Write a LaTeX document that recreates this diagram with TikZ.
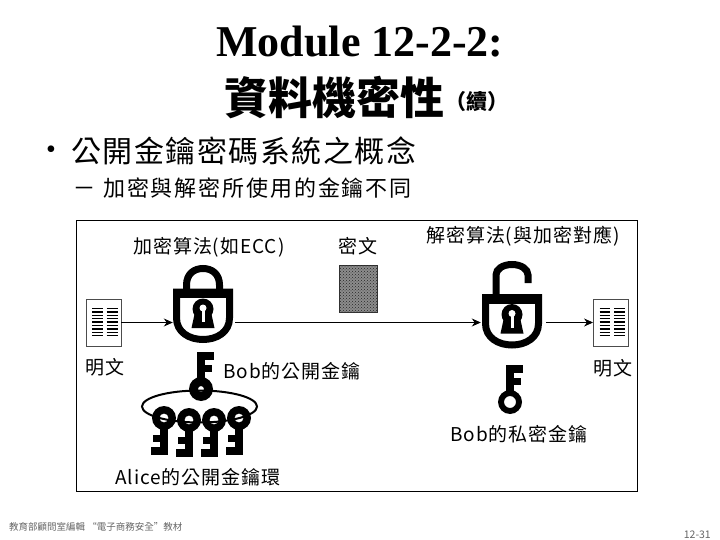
\documentclass[tikz,border=0pt]{standalone}
\usepackage{fontspec}
\setmainfont{Liberation Serif}
\newfontfamily\cjk{Noto Sans CJK TC}
\usetikzlibrary{arrows.meta,patterns}
\newcommand{\fsz}[2]{\fontsize{#1}{#1}\selectfont\addfontfeature{LetterSpace=#2}}
\tikzset{
  tag/.style={anchor=west,inner sep=0pt,font=\cjk\fsz{19}{5}},
  docbox/.style={draw=black!70,fill=white,line width=0.9pt,minimum width=35pt,minimum height=47pt,inner sep=0pt},
  lockbox/.style={minimum width=60pt,minimum height=54pt,inner sep=0pt},
  conn/.style={line width=1.1pt,-{Stealth[length=9pt,width=8pt]}},
  pics/doclines/.style={code={
    \foreach \i in {0,...,8} {
      \draw[line width=1.3pt] (-11.5,-14+3.4*\i) -- (-1,-14+3.4*\i);
      \draw[line width=1.3pt] (3,-14+3.4*\i) -- (14,-14+3.4*\i);
    }
  }},
  pics/keypic/.style={code={
    \fill[even odd rule] (0,0) circle (12pt) (0,0) circle (#1pt);
    \fill (-4,-10) rectangle (4,-37);
    \fill (4,-37) rectangle (13,-29);
    \fill (4,-24) rectangle (11,-17);
  }},
  pics/lockbody/.style={code={
    \draw[line width=7pt] (-26.5,-24) -- (26.5,-24) -- (26.5,2) .. controls (26.5,16) and (14,23.5) .. (0,23.5)
      .. controls (-14,23.5) and (-26.5,16) .. (-26.5,2) -- cycle;
    \fill (-30,-27) rectangle (30,-18);
    \fill (0,-7) circle (10.5pt);
    \fill (-8,-4) -- (-11.5,12) -- (11.5,12) -- (8,-4) -- cycle;
    \fill[white] (0,-8) circle (3.5pt);
    \fill[white] (-1.5,-8) rectangle (1.5,6);
  }},
}
\begin{document}
\begin{tikzpicture}[x=1pt,y=-1pt]
  \useasboundingbox[fill=white] (0,0) rectangle (720,540);
  \node[inner sep=0pt,font=\fontsize{44}{44}\selectfont\bfseries] (title) at (360,42) {Module 12-2-2:};
  \node[inner sep=0pt,anchor=west,font=\cjk\bfseries\fontsize{44}{44}\selectfont] (subtitle) at (224,98) {資料機密性};
  \node[inner sep=0pt,anchor=west,font=\cjk\bfseries\fontsize{21}{21}\selectfont] (cont) at (445,102) {（續）};
  \node[inner sep=0pt,anchor=west,font=\fontsize{28}{28}\selectfont] (bulletA) at (46,152) {•};
  \node[inner sep=0pt,anchor=west,font=\cjk\fsz{30}{5}] (lineA) at (71,151) {公開金鑰密碼系統之概念};
  \node[inner sep=0pt,anchor=west,font=\fontsize{32}{32}\selectfont] (bulletB) at (76,191) {–};
  \node[inner sep=0pt,anchor=west,font=\cjk\fsz{22}{8.5}] (lineB) at (103,188) {加密與解密所使用的金鑰不同};

  \draw[line width=0.9pt] (76.5,220.5) rectangle (637,491);

  \node[docbox] (docL) at (103.5,322.5) {};
  \node[docbox] (docR) at (611,322.5) {};
  \node[lockbox] (lockEnc) at (203,316) {};
  \node[lockbox] (lockDec) at (512,321.5) {};
  \node[draw=black!80,line width=0.6pt,fill=black!45,minimum width=38pt,minimum height=47pt,inner sep=0pt,postaction={pattern=crosshatch dots,pattern color=black!85}] (cipher) at (358,288.5) {};

  \pic at (docL) {doclines};
  \pic at (docR) {doclines};

  \pic at (lockEnc) {lockbody};
  \draw[line width=7pt] (186.5,289) -- (186.5,285) .. controls (186.5,274) and (194,268.5) .. (203,268.5)
    .. controls (212,268.5) and (219.5,274) .. (219.5,285) -- (219.5,289);
  \pic at (lockDec) {lockbody};
  \draw[line width=7pt] (496,296) -- (496,275) .. controls (496,269) and (503,264.5) .. (512,264.5)
    .. controls (521,264.5) and (528,269) .. (528,275) -- (528,283);

  \draw[conn] (docL.east) -- (docL.east -| lockEnc.west);
  \draw[conn] ([xshift=2pt]docL.east -| lockEnc.east) -- ([xshift=-1pt]docL.east -| lockDec.west);
  \draw[conn] ([xshift=4pt]docR.west -| lockDec.east) -- (docR.west);

  \draw[line width=2pt] (199.5,406.5) ellipse (57.5pt and 16pt);
  \pic at (201,389) {keypic=3};
  \pic[rotate=180] at (164,418) {keypic=4.5};
  \pic[rotate=180] at (189,420) {keypic=4.5};
  \pic[rotate=180] at (214,420) {keypic=4.5};
  \pic[rotate=180] at (239,418) {keypic=4.5};
  \pic at (510,402) {keypic=6};

  \node[tag] (encName) at (133,247) {加密算法(如ECC)};
  \node[tag] (cipherName) at (338,246) {密文};
  \node[tag] (decName) at (426,236) {解密算法(與加密對應)};
  \node[tag] (plainL) at (85,367) {明文};
  \node[tag] (plainR) at (593,368) {明文};
  \node[tag] (bobPub) at (223,371) {Bob的公開金鑰};
  \node[tag] (bobPriv) at (450,434) {Bob的私密金鑰};
  \node[tag] (aliceRing) at (115,477) {Alice的公開金鑰環};

  \node[inner sep=0pt,anchor=west,text=black!60,font=\cjk\fontsize{9.5}{9.5}\selectfont] (source) at (9,527) {教育部顧問室編輯 “電子商務安全”教材};
  \node[inner sep=0pt,anchor=east,text=black!60,font=\cjk\fontsize{10.5}{10.5}\selectfont] (pageNo) at (711,535) {12-31};
\end{tikzpicture}
\end{document}
